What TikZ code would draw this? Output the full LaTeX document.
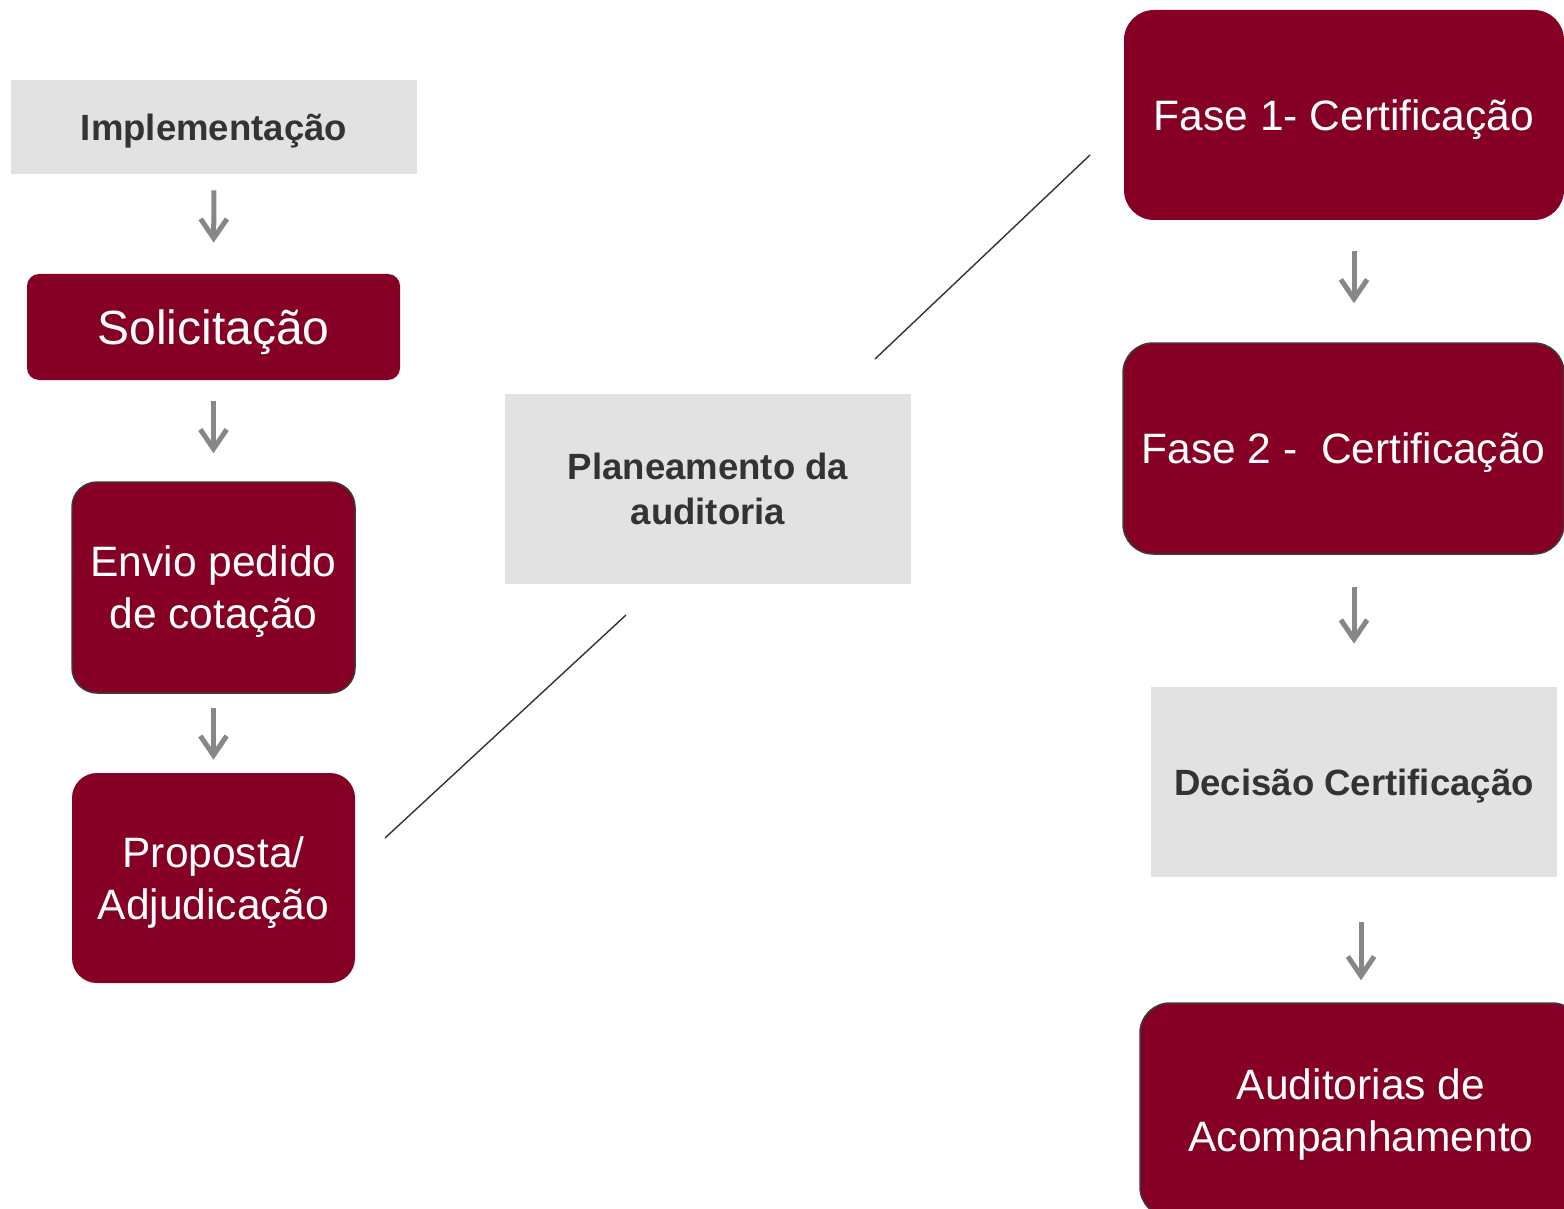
\documentclass[tikz,border=0pt]{standalone}
\usepackage{fontspec}
\setmainfont{Liberation Sans}
\usepackage{xcolor}
\usepackage{tikz}
\usetikzlibrary{arrows.meta}
\def\echelle{0.02cm}
\definecolor{bordeaux}{HTML}{850024}
\definecolor{grisclair}{HTML}{E2E2E2}
\definecolor{grisfonce}{HTML}{333333}
\definecolor{grisfleche}{HTML}{878787}
\definecolor{bord}{HTML}{3C3C3C}

\begin{document}
\begin{tikzpicture}[x=0.02cm, y=-0.02cm,
    etape/.style={fill=bordeaux, text=white, inner sep=0pt, align=center,
        text depth=-7*\echelle, font=\fontsize{24.2}{29.6}\selectfont},
    cadre/.style={draw=bord, line width=0.85pt},
    gris/.style={fill=grisclair, text=grisfonce, inner sep=0pt, align=center,
        text depth=-5*\echelle, font=\fontsize{20.8}{25.6}\selectfont\bfseries,
        minimum width=406*\echelle, minimum height=190*\echelle},
    fleche/.style={draw=grisfleche, line width=2.85pt,
        -{Straight Barb[length=11pt, width=15pt]}},
    trait/.style={draw=grisfonce, line width=0.8pt}]
\clip (0,0) rectangle (1564,1209);
%\draw[step=100, line width=0.1mm, black!30!white] (0,0) grid (1564,1209);
    % colonne de gauche
    \node[gris, minimum height=94*\echelle, text depth=-4*\echelle] (impl) at (214,127) {Implementação};
    \node[etape, rounded corners=12*\echelle, minimum width=373*\echelle,
        minimum height=106*\echelle, text depth=-4*\echelle,
        font=\fontsize{27.3}{32}\selectfont] (sol) at (213.5,327) {Solicitação};
    \node[etape, cadre, rounded corners=25*\echelle, minimum width=283*\echelle,
        minimum height=211*\echelle] (envio) at (213.5,587.5) {Envio pedido\\de cotação};
    \node[etape, rounded corners=25*\echelle, minimum width=283*\echelle,
        minimum height=210*\echelle] (prop) at (213.5,878) {Proposta/\\Adjudicação};
    % milieu
    \node[gris, text depth=-12*\echelle] (plan) at (708,489) {Planeamento da\\auditoria};
    % colonne de droite
    \node[etape, rounded corners=30*\echelle, minimum width=440*\echelle,
        minimum height=210*\echelle] (fase1) at (1344,115) {Fase 1- Certificação};
    \node[etape, cadre, rounded corners=30*\echelle, minimum width=441*\echelle,
        minimum height=211*\echelle] (fase2) at (1343.5,448.5) {Fase 2 -\ \ Certificação};
    \node[gris] (decisao) at (1354,782) {Decisão Certificação};
    \node[etape, cadre, rounded corners=30*\echelle, minimum width=442*\echelle,
        minimum height=214*\echelle] (audit) at (1361,1110) {Auditorias de\\Acompanhamento};
    % traits obliques
    \coordinate (t1a) at (385,838);
    \coordinate (t1b) at (626,615);
    \coordinate (t2a) at (875,359);
    \coordinate (t2b) at (1090,155);
    \draw[trait] (t1a) -- (t1b);
    \draw[trait] (t2a) -- (t2b);
    % fleches
    \draw[fleche, shorten <=16*\echelle, shorten >=31*\echelle] (impl.south) -- (sol.north);
    \draw[fleche, shorten <=21*\echelle, shorten >=28*\echelle] (sol.south) -- (envio.north);
    \draw[fleche, shorten <=14*\echelle, shorten >=13*\echelle] (envio.south) -- (prop.north);
    \draw[fleche, shorten <=31*\echelle, shorten >=39*\echelle] (fase1.south -| decisao.north) -- (fase2.north -| decisao.north);
    \draw[fleche, shorten <=32*\echelle, shorten >=43*\echelle] (fase2.south -| decisao.north) -- (decisao.north);
    \draw[fleche, shorten <=45*\echelle, shorten >=22*\echelle] (decisao.south -| audit.north) -- (audit.north);
\end{tikzpicture}
\end{document}
